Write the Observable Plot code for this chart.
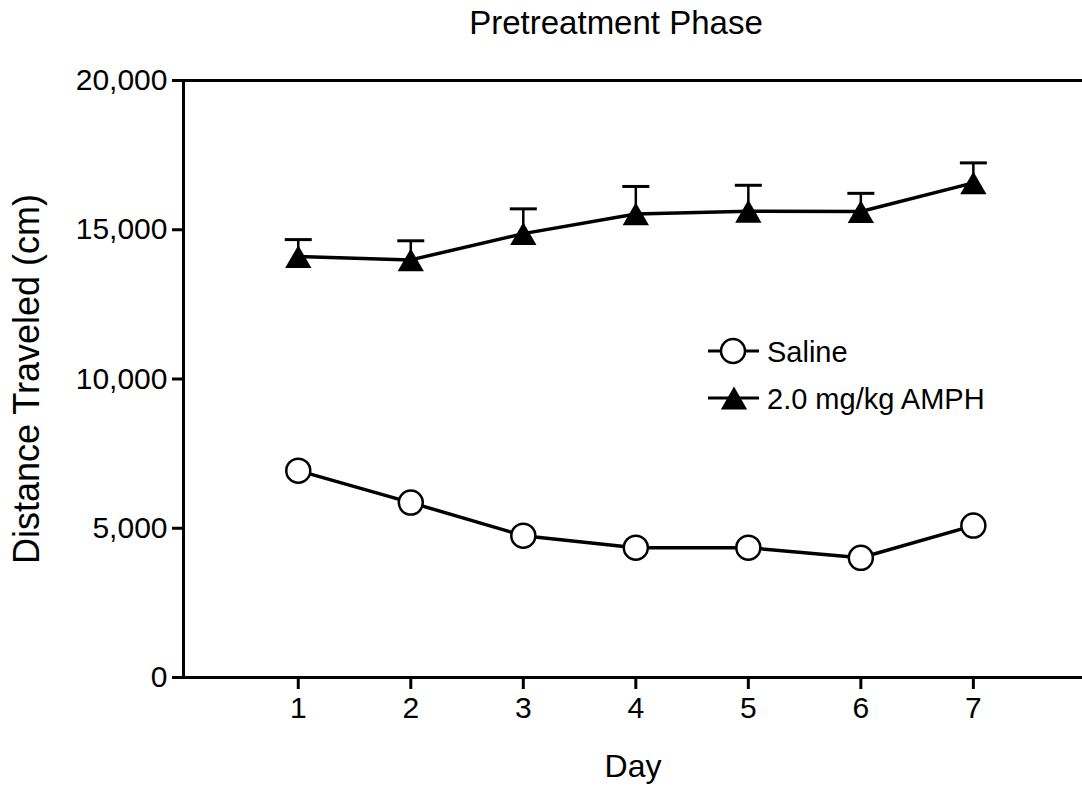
<!DOCTYPE html>
<html>
<head>
<meta charset="utf-8">
<script src="https://cdn.jsdelivr.net/npm/d3@7"></script>
<script src="https://cdn.jsdelivr.net/npm/@observablehq/plot@0.6"></script>
<style>
  html, body { margin: 0; padding: 0; background: white; }
  #wrap { position: relative; width: 1082px; height: 787px; font-family: "Liberation Sans", Arial, sans-serif; }
  #title { position: absolute; top: 6px; left: 616px; transform: translateX(-50%); font-size: 33px; line-height: 33px; white-space: nowrap; color: black; }
  #legend { position: absolute; left: 0; top: 0; pointer-events: none; }
</style>
</head>
<body>
<div id="wrap">
  <div id="title">Pretreatment Phase</div>
</div>
<script>
// ---- data ----
const days = [1, 2, 3, 4, 5, 6, 7];
const salineMean = [6930, 5860, 4750, 4350, 4350, 4010, 5090];
const amphMean = [14100, 13990, 14870, 15530, 15620, 15610, 16570];
const amphSem = [570, 640, 830, 920, 870, 610, 670];
const yTicks = [0, 5000, 10000, 15000, 20000];
const seriesNames = ["Saline", "2.0 mg/kg AMPH"];

const saline = days.map((d, i) => ({day: d, value: salineMean[i]}));
const amph = days.map((d, i) => ({day: d, value: amphMean[i], upper: amphMean[i] + amphSem[i]}));

const capSymbol = {
  draw(context) { context.moveTo(-13.5, 0); context.lineTo(13.5, 0); }
};

const plot = Plot.plot({
  width: 1082,
  height: 787,
  marginLeft: 183,
  marginRight: 0,
  marginTop: 80,
  marginBottom: 110,
  x: {domain: [-0.02, 7.97]},
  y: {domain: [0, 20000]},
  style: {fontFamily: '"Liberation Sans", Arial, sans-serif', color: "black", background: "white", overflow: "visible"},
  marks: [
    Plot.axisY({ticks: yTicks, tickFormat: d3.format(","), tickSize: 11, tickPadding: 5, strokeWidth: 3, fontSize: 30,
      label: "Distance Traveled (cm)", labelAnchor: "center", labelArrow: "none", labelOffset: 170}),
    Plot.axisX({ticks: days, tickFormat: d3.format("d"), tickSize: 12, tickPadding: 7, strokeWidth: 3, fontSize: 30,
      label: "Day", labelAnchor: "center", labelArrow: "none", labelOffset: 99}),
    Plot.frame({anchor: "left", strokeWidth: 3}),
    Plot.frame({anchor: "top", strokeWidth: 3}),
    Plot.frame({anchor: "bottom", strokeWidth: 3}),
    Plot.ruleX(amph, {x: "day", y1: "value", y2: "upper", stroke: "black", strokeWidth: 2.5}),
    Plot.dot(amph, {x: "day", y: "upper", symbol: capSymbol, stroke: "black", strokeWidth: 3, fill: "none"}),
    Plot.line(amph, {x: "day", y: "value", stroke: "black", strokeWidth: 3.5}),
    Plot.dot(amph, {x: "day", y: "value", symbol: "triangle", r: 9.76, fill: "black", stroke: "none", dy: 3.8}),
    Plot.line(saline, {x: "day", y: "value", stroke: "black", strokeWidth: 3.5}),
    Plot.dot(saline, {x: "day", y: "value", r: 12, fill: "white", stroke: "black", strokeWidth: 2.5})
  ]
});
plot.style.position = "absolute";
plot.style.left = "0";
plot.style.top = "0";
const wrap = document.getElementById("wrap");
wrap.insertBefore(plot, wrap.firstChild);

// axis label font sizes
d3.select(plot).selectAll("g[aria-label='y-axis label'] text").attr("font-size", 36);
d3.select(plot).selectAll("g[aria-label='x-axis label'] text").attr("font-size", 32);

// ---- legend (overlay) ----
const leg = d3.select(wrap).append("svg").attr("id", "legend").attr("width", 1082).attr("height", 787);
const rows = [{y: 351, kind: "circle"}, {y: 398, kind: "triangle"}];
rows.forEach((r, i) => {
  const g = leg.append("g");
  g.append("line").attr("x1", 708).attr("x2", 759).attr("y1", r.y).attr("y2", r.y).attr("stroke", "black").attr("stroke-width", 3);
  if (r.kind === "circle") {
    g.append("circle").attr("cx", 733).attr("cy", r.y).attr("r", 12).attr("fill", "white").attr("stroke", "black").attr("stroke-width", 2.5);
  } else {
    g.append("path").attr("d", d3.symbol(d3.symbolTriangle, Math.PI * 9.76 * 9.76)())
      .attr("transform", `translate(734,${r.y + 3.8})`).attr("fill", "black");
  }
  g.append("text").attr("x", 767).attr("y", r.y + 1).attr("dy", "0.35em")
    .attr("font-family", '"Liberation Sans", Arial, sans-serif').attr("font-size", 29).attr("fill", "black")
    .text(seriesNames[i]);
});
</script>
</body>
</html>
